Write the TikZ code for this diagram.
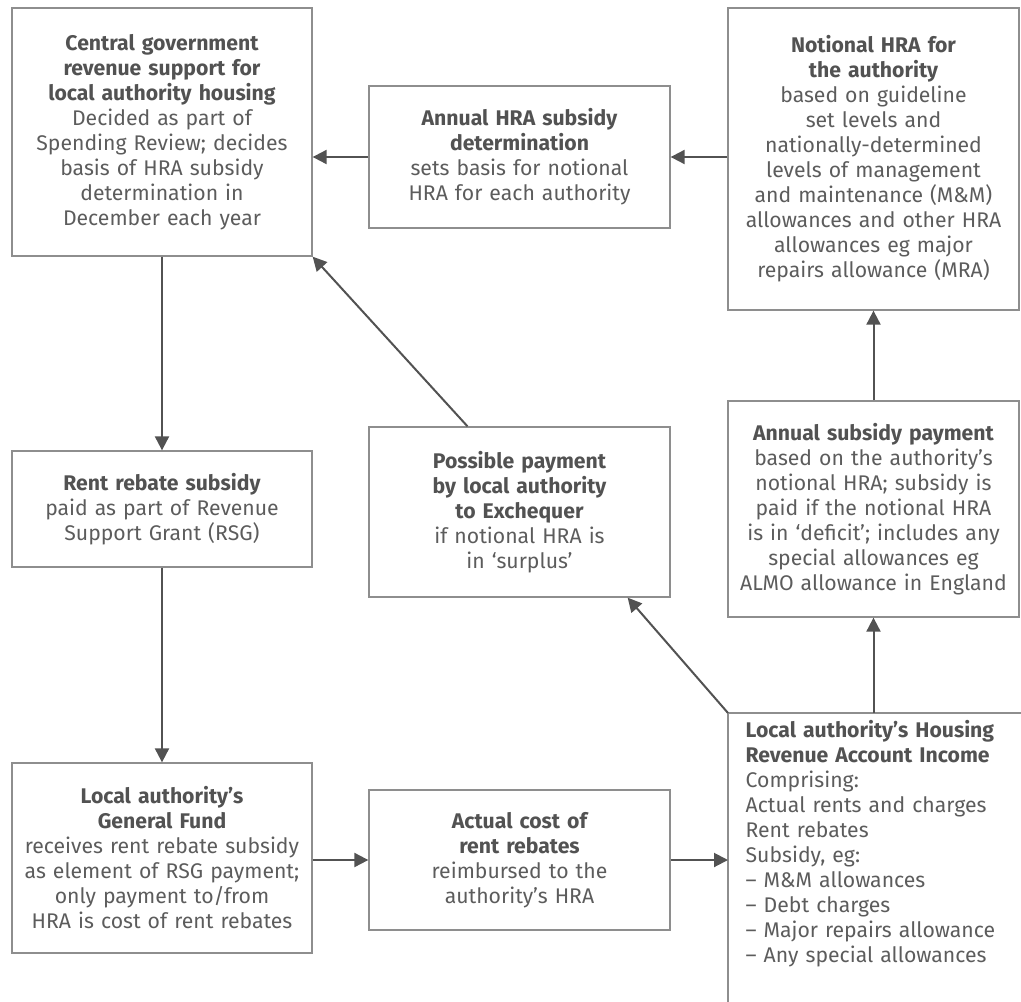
\documentclass[tikz,border=0pt]{standalone}
\usepackage{fontspec}
\setmainfont{Fira Sans}
\usetikzlibrary{arrows.meta,calc,positioning}
\definecolor{boxgray}{HTML}{8E8E8E}
\definecolor{inkgray}{HTML}{525252}
\definecolor{txtgray}{HTML}{5C5C5C}
\tikzset{
  box/.style={draw=boxgray, line width=1.3pt, align=center, text=txtgray,
    font=\fontsize{21.2}{25}\selectfont, inner sep=0pt},
  flow/.style={draw=inkgray, line width=2pt, -{Triangle[length=14pt,width=14pt]}},
}
\newcommand{\hd}[1]{{\bfseries\color{inkgray}#1}}
\begin{document}
\begin{tikzpicture}[x=1pt,y=-1pt]
\useasboundingbox (0,0) rectangle (1021,1002);
% left column
\node[box, minimum width=300, minimum height=248, text width=294] (central) at (162,132)
  {\hd{Central government\\revenue support for\\local authority housing}\\
   Decided as part of\\Spending Review; decides\\basis of HRA subsidy\\determination in\\December each year};
\node[box, minimum width=300, minimum height=116, text width=294] (rebate) at (162,509)
  {\hd{Rent rebate subsidy}\\paid as part of Revenue\\Support Grant (RSG)};
\node[box, minimum width=300, minimum height=190, text width=294] (fund) at (162,858)
  {\hd{Local authority’s\\General Fund}\\receives rent rebate subsidy\\as element of RSG payment;\\only payment to/from\\HRA is cost of rent rebates};
% middle column
\node[box, minimum width=301, minimum height=142, text width=295] (determ) at (519.5,157)
  {\hd{Annual HRA subsidy\\determination}\\sets basis for notional\\HRA for each authority};
\node[box, minimum width=301, minimum height=170, text width=295] (possible) at (519.5,512)
  {\hd{Possible payment\\by local authority\\to Exchequer}\\if notional HRA is\\in ‘surplus’};
\node[box, minimum width=301, minimum height=140, text width=295] (actual) at (519.5,860)
  {\hd{Actual cost of\\rent rebates}\\reimbursed to the\\authority’s HRA};
% right column
\node[box, minimum width=291, minimum height=302, text width=285] (notional) at (873.5,159)
  {\hd{Notional HRA for\\the authority}\\based on guideline\\set levels and\\nationally-determined\\levels of management\\and maintenance (M\&M)\\allowances and other HRA\\allowances eg major\\repairs allowance (MRA)};
\node[box, minimum width=291, minimum height=216, text width=285] (subsidy) at (873.5,509)
  {\hd{Annual subsidy payment}\\based on the authority’s\\notional HRA; subsidy is\\paid if the notional HRA\\is in ‘deficit’; includes any\\special allowances eg\\ALMO allowance in England};
% open box at the bottom right
\coordinate (hra) at (728,713);
\draw[draw=boxgray, line width=1.3pt] (1021,713) -| (728,1002);
\node[box, draw=none, anchor=north west, align=left, text width=274] (income) at (745,720)
  {\hd{Local authority’s Housing\\Revenue Account Income}\\Comprising:\\Actual rents and charges\\Rent rebates\\Subsidy, eg:\\– M\&M allowances\\– Debt charges\\– Major repairs allowance\\– Any special allowances};
% connectors
\draw[flow] (determ.west) -- (determ.west -| central.east);
\draw[flow] (notional.west |- determ.east) -- (determ.east);
\draw[flow] (central) -- (rebate);
\draw[flow] (rebate) -- (fund);
\draw[flow] (fund.east |- actual.west) -- (actual.west);
\draw[flow] (actual.east) -- (actual.east -| hra);
\draw[flow] ($(possible.north)+(-52,0)$) -- (central.south east);
\draw[flow] (hra) -- ($(possible.south east)+(-43,0)$);
\draw[flow] (subsidy.south |- hra) -- (subsidy.south);
\draw[flow] (subsidy) -- (notional);
\end{tikzpicture}
\end{document}
